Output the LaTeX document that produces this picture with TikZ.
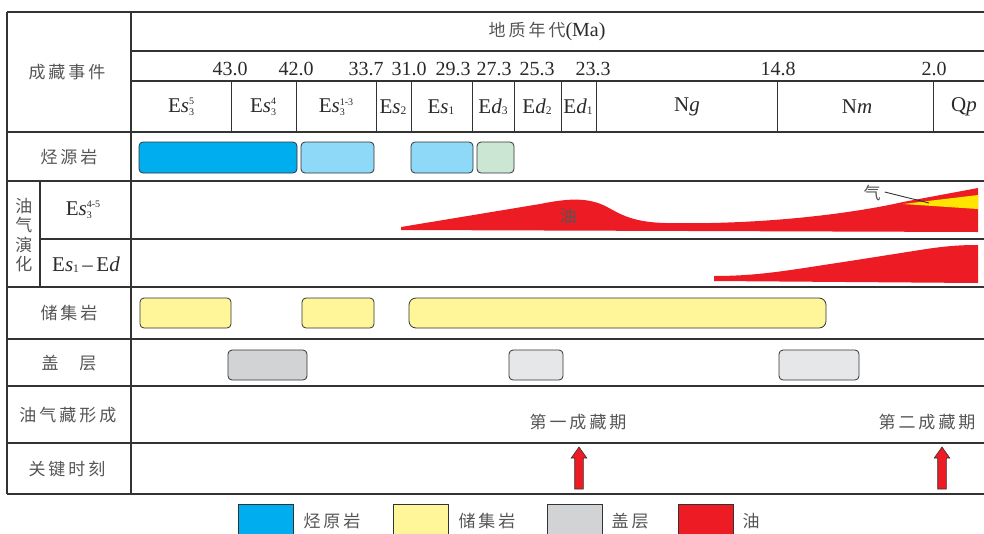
\documentclass[tikz,border=0pt]{standalone}
\usepackage{fontspec}
\setmainfont{Liberation Serif}
\newfontfamily\cjk{Noto Sans CJK SC}
\definecolor{linec}{HTML}{333333}
\definecolor{txtc}{HTML}{2A2A2A}
\definecolor{cjkgray}{HTML}{555555}
\definecolor{srcblue}{HTML}{00AEEF}
\definecolor{lblue}{HTML}{8ED8F8}
\definecolor{lgreen}{HTML}{CCE6D4}
\definecolor{resy}{HTML}{FFF599}
\definecolor{grayA}{HTML}{D1D3D4}
\definecolor{grayB}{HTML}{E6E7E8}
\definecolor{oilred}{HTML}{ED1C24}
\definecolor{gasy}{HTML}{FFE500}
\newcommand\zh[1]{{\cjk\fontsize{17}{17}\selectfont\color{cjkgray}#1}}
\newcommand\gp{\hspace{3pt}}
\newcommand\smn[1]{{\fontsize{10}{10}\selectfont #1}}
\newcommand\EsSS[2]{E\textit{s}\rlap{\raisebox{-3pt}{\smn{#1}}}\raisebox{7.5pt}{\smn{#2}}}
\newcommand\lowsub[1]{\raisebox{-1pt}{\fontsize{11.5}{11.5}\selectfont #1}}
\begin{document}
\begin{tikzpicture}[x=1pt,y=-1pt,
  tline/.style={draw=linec,line width=1.3pt},
  sline/.style={draw=linec,line width=0.9pt},
  lbl/.style={inner sep=0pt,anchor=center},
  zhs/.style={inner sep=0pt,font=\cjk\fontsize{17}{19.5}\selectfont,text=cjkgray},
  num/.style={inner sep=0pt,font=\fontsize{20}{20}\selectfont,text=txtc},
  stg/.style={inner sep=0pt,font=\fontsize{21}{21}\selectfont,text=txtc},
  bar/.style={draw=linec,line width=0.8pt,rounded corners=4pt},
  arrowbox/.style={draw=linec,line width=0.6pt,fill=oilred},
  legbox/.style={draw=linec,line width=0.8pt}]
\useasboundingbox (0,0) rectangle (984,533);
\clip (0,0) rectangle (984,533);
% ---------- table lines ----------
\draw[tline] (7,12) -- (984,12);
\draw[tline] (131,51) -- (984,51);
\draw[tline] (131,81) -- (984,81);
\foreach \yy in {132,181,287,339,386,443,494} {\draw[tline] (7,\yy) -- (984,\yy);}
\draw[tline] (40,239) -- (984,239);
\draw[tline] (7,12) -- (7,494);
\draw[tline] (131,12) -- (131,494);
\draw[tline] (40,181) -- (40,287);
\foreach \xx in {231,296,376,411,472,514,561,596,777,933} {\draw[sline] (\xx,81) -- (\xx,132);}
% ---------- header ----------
\node[lbl,font=\fontsize{20}{20}\selectfont,text=txtc] (hdr) at (547,31) {\zh{地\gp 质\gp 年\gp 代}(Ma)};
\node[zhs] (cz) at (67,72) {成\gp 藏\gp 事\gp 件};
\node[num] (n1) at (230,69) {43.0};
\node[num] (n2) at (296,69) {42.0};
\node[num] (n3) at (366,69) {33.7};
\node[num] (n4) at (409,69) {31.0};
\node[num] (n5) at (453,69) {29.3};
\node[num] (n6) at (494,69) {27.3};
\node[num] (n7) at (537,69) {25.3};
\node[num] (n8) at (593,69) {23.3};
\node[num] (n9) at (778,69) {14.8};
\node[num] (n10) at (934,69) {2.0};
\node[stg] (s1) at (181,107) {\EsSS{3}{5}};
\node[stg] (s2) at (263,107) {\EsSS{3}{4}};
\node[stg] (s3) at (336,107) {\EsSS{3}{1-3}};
\node[stg] (s4) at (393,107) {E\textit{s}\lowsub{2}};
\node[stg] (s5) at (441,107) {E\textit{s}\lowsub{1}};
\node[stg] (s6) at (493,107) {E\textit{d}\lowsub{3}};
\node[stg] (s7) at (537,107) {E\textit{d}\lowsub{2}};
\node[stg] (s8) at (578,107) {E\textit{d}\lowsub{1}};
\node[stg] (s9) at (687,107) {N\textit{g}};
\node[stg] (s10) at (857,107) {N\textit{m}};
\node[stg] (s11) at (964,107) {Q\textit{p}};
% ---------- row labels ----------
\node[zhs] (r1) at (69,157) {烃\gp 源\gp 岩};
\node[zhs,align=center] (r2) at (24,235) {油\\气\\演\\化};
\node[stg] (r2a) at (83,210) {\EsSS{3}{4-5}};
\node[stg] (r2b) at (86,265) {E\textit{s}\lowsub{1}\,--\,E\textit{d}};
\node[zhs] (r3) at (69,313) {储\gp 集\gp 岩};
\node[zhs] (r4) at (69,363) {盖\hspace{21pt}层};
\node[zhs] (r5) at (68,415) {油\gp 气\gp 藏\gp 形\gp 成};
\node[zhs] (r6) at (67,469) {关\gp 键\gp 时\gp 刻};
% ---------- source rock ----------
\draw[bar,fill=srcblue] (139,142) rectangle (297,173);
\draw[bar,fill=lblue] (301,142) rectangle (374,173);
\draw[bar,fill=lblue] (411,142) rectangle (473,173);
\draw[bar,fill=lgreen] (477,142) rectangle (514,173);
% ---------- oil evolution Es3 ----------
\fill[oilred] (401,230) -- (401,227) -- (540,204)
  .. controls (565,199) and (585,197) .. (603,205)
  .. controls (618,212) and (628,222) .. (665,223)
  .. controls (760,225) and (850,214) .. (903,202)
  -- (978,188) -- (978,232) -- cycle;
\fill[gasy] (903,204) -- (978,195) -- (978,209) -- cycle;
\node[zhs] (oil1) at (568,216) {油};
\node[zhs] (gas1) at (872,193) {气};
\coordinate (gasend) at (929,203);
\draw[draw=linec,line width=0.9pt] (gas1.east) ++(4,-1) -- (gasend);
% ---------- oil evolution Es1-Ed ----------
\fill[oilred] (714,281) -- (714,276)
  .. controls (760,276) and (790,270) .. (850,261)
  -- (920,250) .. controls (945,246) and (960,245) .. (978,245)
  -- (978,283) -- cycle;
% ---------- reservoir ----------
\draw[bar,fill=resy] (140,298) rectangle (231,328);
\draw[bar,fill=resy] (302,298) rectangle (374,328);
\draw[bar,fill=resy,rounded corners=7pt] (409,298) rectangle (826,328);
% ---------- seal ----------
\draw[bar,fill=grayA] (228,350) rectangle (307,380);
\draw[bar,fill=grayB] (509,350) rectangle (563,380);
\draw[bar,fill=grayB] (779,350) rectangle (859,380);
% ---------- accumulation ----------
\node[zhs] (p1) at (578,422) {第\gp 一\gp 成\gp 藏\gp 期};
\node[zhs] (p2) at (927,422) {第\gp 二\gp 成\gp 藏\gp 期};
\foreach \ax in {579,942} {
  \draw[arrowbox,shift={(\ax,0)}] (-4.3,489) -- (-4.3,458) -- (-7.8,458) -- (0,447) -- (7.8,458) -- (4.3,458) -- (4.3,489) -- cycle;
}
% ---------- legend ----------
\draw[legbox,fill=srcblue] (238,504) rectangle (293,545);
\node[zhs] (l1) at (332,521) {烃\gp 原\gp 岩};
\draw[legbox,fill=resy] (393,504) rectangle (448,545);
\node[zhs] (l2) at (487,521) {储\gp 集\gp 岩};
\draw[legbox,fill=grayA] (547,504) rectangle (602,545);
\node[zhs] (l3) at (630,521) {盖\gp 层};
\draw[legbox,fill=oilred] (678,504) rectangle (733,545);
\node[zhs] (l4) at (751,521) {油};
\end{tikzpicture}
\end{document}
